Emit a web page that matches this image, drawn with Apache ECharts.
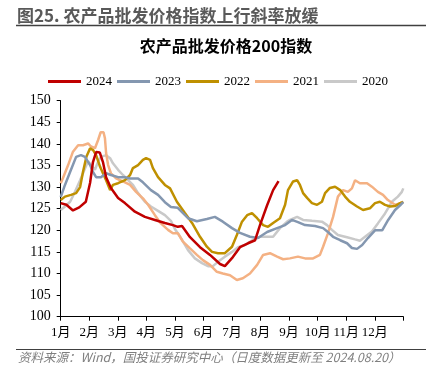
<!DOCTYPE html>
<html><head><meta charset="utf-8">
<script src="https://cdn.jsdelivr.net/npm/echarts@6/dist/echarts.min.js"></script>
<style>html,body{margin:0;padding:0;background:#fff}#c{width:436px;height:374px}</style>
</head><body><div id="c"></div>
<script>
// x = position in months from Jan 1 (0..12), y = index value
const monthLabels = ['1月','2月','3月','4月','5月','6月','7月','8月','9月','10月','11月','12月'];
const seriesNames = ['2024','2023','2022','2021','2020'];
const d2024 = [[0,126.3],[0.2,125.9],[0.43,124.6],[0.65,125.3],[0.88,126.6],[1.03,131.0],[1.13,135.8],[1.24,138.1],[1.37,138.0],[1.48,135.8],[1.59,132.3],[1.76,129.8],[2.01,127.5],[2.25,126.3],[2.6,124.3],[2.95,123.1],[3.3,122.4],[3.65,121.7],[3.93,121.2],[4.1,120.8],[4.25,121.0],[4.53,118.4],[4.88,116.1],[5.23,114.3],[5.58,112.2],[5.75,111.7],[6.03,113.8],[6.28,116.1],[6.56,117.0],[6.81,117.7],[6.98,121.2],[7.23,125.8],[7.44,129.3],[7.63,131.4]];
const d2023 = [[0,127.7],[0.15,130.5],[0.36,134.0],[0.54,137.0],[0.71,137.4],[0.85,137.0],[1.03,135.1],[1.13,133.5],[1.24,132.3],[1.41,132.3],[1.59,133.2],[1.76,132.8],[2.01,132.3],[2.25,132.3],[2.43,132.0],[2.71,132.0],[2.88,131.1],[3.16,129.3],[3.41,128.2],[3.65,126.5],[3.86,125.4],[4.1,125.2],[4.46,122.8],[4.77,122.1],[5.12,122.6],[5.4,123.1],[5.68,122.0],[6.0,120.5],[6.28,119.4],[6.63,118.5],[6.91,118.2],[7.23,119.6],[7.58,120.5],[7.86,121.2],[8.1,122.4],[8.31,121.9],[8.56,121.2],[8.91,121.0],[9.19,120.5],[9.36,119.6],[9.54,118.5],[9.79,117.7],[10.03,117.0],[10.2,115.9],[10.38,115.7],[10.56,116.6],[10.76,118.2],[11.01,120.0],[11.26,120.0],[11.47,122.4],[11.71,124.7],[11.89,125.8],[12,126.5]];
const d2022 = [[0,127.0],[0.15,127.8],[0.36,128.2],[0.54,128.6],[0.68,130.0],[0.78,133.5],[0.9,137.0],[1.03,139.0],[1.13,138.6],[1.24,137.4],[1.38,134.7],[1.48,133.2],[1.59,131.6],[1.73,129.3],[1.83,130.5],[2.01,130.9],[2.25,131.6],[2.43,132.8],[2.53,134.4],[2.71,135.1],[2.88,136.3],[2.99,136.7],[3.13,136.3],[3.23,134.4],[3.41,132.3],[3.65,130.5],[3.83,129.7],[4.07,126.6],[4.35,124.0],[4.6,121.7],[4.88,118.5],[5.12,116.2],[5.3,115.0],[5.51,114.7],[5.75,114.7],[6.0,116.2],[6.17,118.9],[6.35,122.0],[6.53,123.5],[6.7,124.0],[6.88,122.8],[7.09,121.2],[7.26,120.8],[7.44,121.7],[7.68,122.8],[7.86,125.9],[7.96,129.3],[8.14,131.3],[8.28,131.6],[8.38,130.5],[8.49,128.6],[8.63,127.5],[8.8,126.3],[8.98,125.9],[9.15,126.6],[9.26,128.6],[9.43,129.8],[9.61,130.1],[9.79,129.3],[9.96,127.8],[10.13,126.6],[10.38,125.5],[10.59,124.7],[10.83,125.1],[11.01,126.3],[11.18,126.6],[11.36,125.9],[11.54,125.5],[11.71,125.6],[11.89,126.3],[12,126.6]];
const d2021 = [[0,130.9],[0.08,132.1],[0.26,135.1],[0.43,138.2],[0.61,139.7],[0.78,139.7],[0.96,140.1],[1.06,139.4],[1.2,139.0],[1.31,140.9],[1.4,142.7],[1.5,142.7],[1.55,141.3],[1.59,137.9],[1.66,135.1],[1.76,133.2],[1.94,132.0],[2.18,131.3],[2.43,130.5],[2.64,128.9],[2.88,127.4],[3.06,125.9],[3.3,123.5],[3.51,121.6],[3.76,120.1],[3.93,119.3],[4.11,119.3],[4.28,117.4],[4.53,115.8],[4.77,114.3],[4.98,113.1],[5.23,112.0],[5.47,110.4],[5.68,110.0],[5.93,109.6],[6.17,108.5],[6.38,108.9],[6.63,110.0],[6.88,112.0],[7.09,114.3],[7.33,114.7],[7.58,113.9],[7.79,113.3],[8.03,113.5],[8.31,113.9],[8.56,113.5],[8.84,113.5],[9.08,114.3],[9.19,116.2],[9.36,119.3],[9.54,123.1],[9.71,127.8],[9.89,129.3],[10.06,128.9],[10.2,129.7],[10.31,131.6],[10.48,130.9],[10.73,130.9],[10.9,130.1],[11.11,128.9],[11.29,128.2],[11.46,127.0],[11.71,125.9],[11.89,126.3],[12,126.6]];
const d2020 = [[0,124.7],[0.15,125.5],[0.33,126.6],[0.5,128.9],[0.68,131.6],[0.85,134.3],[0.96,136.0],[1.06,135.1],[1.2,134.0],[1.31,135.9],[1.41,137.0],[1.59,137.4],[1.73,136.7],[1.83,135.5],[2.01,134.0],[2.18,132.8],[2.36,131.6],[2.53,130.5],[2.71,128.6],[2.95,126.6],[3.16,125.5],[3.41,124.5],[3.65,123.5],[3.86,122.2],[4.0,120.3],[4.25,117.8],[4.46,115.4],[4.7,113.5],[4.95,112.4],[5.16,111.7],[5.33,111.7],[5.51,112.7],[5.75,113.9],[6.0,115.0],[6.21,116.1],[6.46,116.6],[6.74,117.8],[6.98,118.5],[7.23,118.5],[7.44,118.5],[7.68,120.5],[7.93,122.0],[8.03,122.4],[8.28,123.1],[8.49,122.4],[8.8,122.2],[9.15,122.0],[9.33,121.2],[9.5,120.1],[9.71,118.9],[10.03,118.4],[10.31,117.9],[10.48,117.6],[10.66,118.5],[10.9,119.7],[11.11,121.6],[11.36,123.9],[11.6,126.6],[11.81,127.8],[11.95,128.9],[12,129.7]];
const seriesData = [d2024, d2023, d2022, d2021, d2020];
const colors = ['#C00000','#8497B0','#BF9000','#F4B183','#C9C9C9'];

const serif = "'Liberation Serif','Noto Sans CJK SC',serif";
const cjk = "'Noto Sans CJK SC',sans-serif";

const chart = echarts.init(document.getElementById('c'), null, {renderer:'canvas'});
const series = [];
for (let i = seriesNames.length - 1; i >= 0; i--) {
  series.push({
    name: seriesNames[i], type: 'line', data: seriesData[i], showSymbol: false, symbol: 'none',
    lineStyle: {color: colors[i], width: 2.5}, itemStyle: {color: colors[i]}, animation: false
  });
}
chart.setOption({
  animation: false,
  grid: {left: 60.7, right: 32.7, top: 100.7, bottom: 57.3},
  legend: {
    data: seriesNames, left: 'center', top: 70, icon: 'rect', itemWidth: 33, itemHeight: 3, itemGap: 5,
    textStyle: {fontFamily: serif, fontSize: 13, color: '#000'}
  },
  xAxis: {
    type: 'value', min: 0, max: 12, interval: 1,
    axisLine: {lineStyle: {color: '#000', width: 1}},
    axisTick: {show: true, length: 4, lineStyle: {color: '#000'}},
    splitLine: {show: false},
    axisLabel: {margin: 9, fontFamily: serif, fontSize: 13, color: '#000',
      formatter: v => (v < 12 ? monthLabels[v] : '')}
  },
  yAxis: {
    type: 'value', min: 100, max: 150, interval: 5,
    axisLine: {show: true, lineStyle: {color: '#000', width: 1}},
    axisTick: {show: true, length: 4, lineStyle: {color: '#000'}},
    splitLine: {show: false},
    axisLabel: {margin: 10, fontFamily: serif, fontSize: 14, color: '#000'}
  },
  graphic: [
    {type: 'text', x: 17, y: 16, style: {text: '图25. 农产品批发价格指数上行斜率放缓', font: 'bold 17px ' + cjk, fill: '#595959', verticalAlign: 'middle'}},
    {type: 'line', shape: {x1: 16, y1: 25.5, x2: 426, y2: 25.5}, style: {stroke: '#404040', lineWidth: 1.5}},
    {type: 'text', x: 226, y: 46, style: {text: '农产品批发价格200指数', font: 'bold 16px ' + cjk, fill: '#000', align: 'center', verticalAlign: 'middle'}},
    {type: 'line', shape: {x1: 16, y1: 349.5, x2: 426, y2: 349.5}, style: {stroke: '#404040', lineWidth: 1}},
    {type: 'text', x: 18, y: 357, style: {text: '资料来源：Wind，国投证券研究中心（日度数据更新至 2024.08.20）', font: 'italic 12.5px ' + cjk, fill: '#7F7F7F', verticalAlign: 'middle'}}
  ],
  series: series
});
</script></body></html>
